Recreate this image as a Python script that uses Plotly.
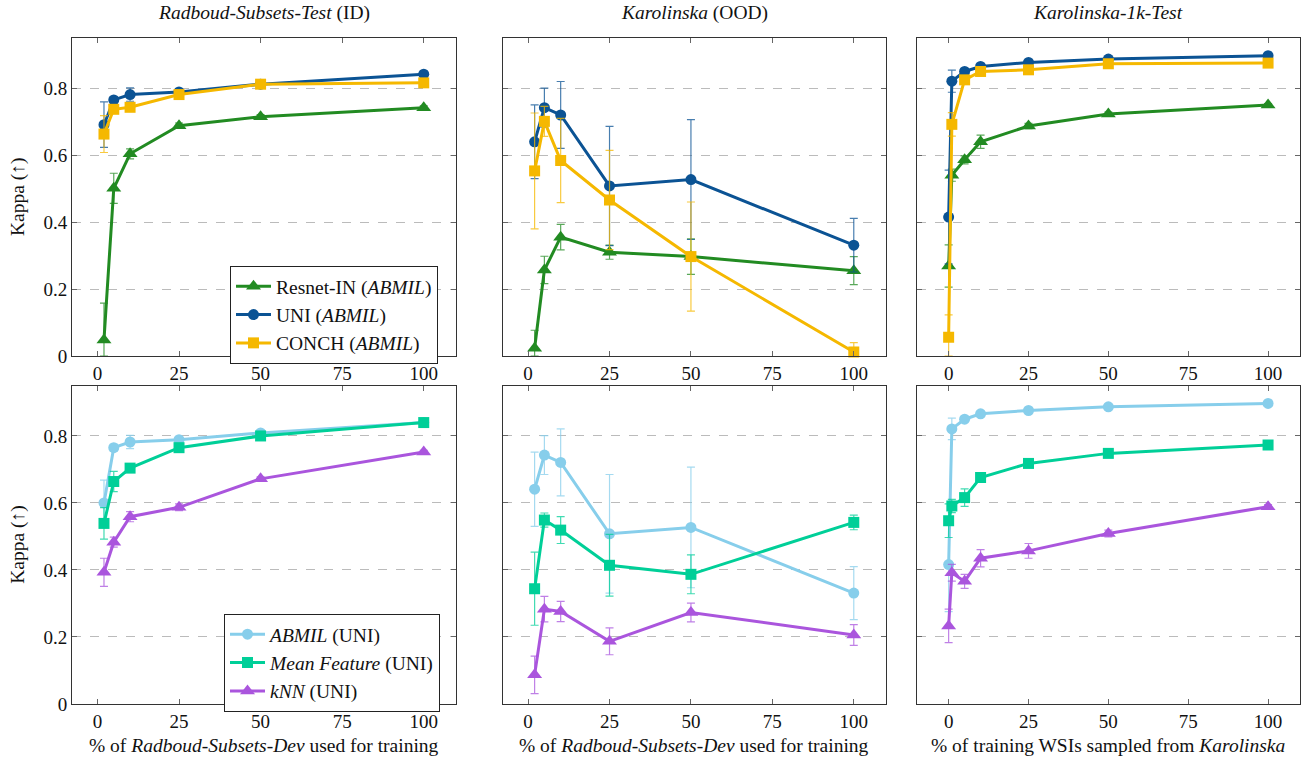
import plotly.graph_objects as go

# ---------------- data ----------------
x_radboud = [2, 5, 10, 25, 50, 100]
x_karo = [0, 1, 5, 10, 25, 50, 100]
x_ticks = [0, 25, 50, 75, 100]
y_ticks = [0, 0.2, 0.4, 0.6, 0.8]
y_tick_labels = ["0", "0.2", "0.4", "0.6", "0.8"]

# Top row: encoders with ABMIL
resnet_id = [0.048, 0.501, 0.604, 0.688, 0.715, 0.742]
resnet_id_err = [0.11, 0.045, 0.015, 0.008, 0.006, 0.005]
uni_id = [0.691, 0.765, 0.781, 0.789, 0.812, 0.842]
uni_id_err = [0.068, 0.01, 0.02, 0.008, 0.005, 0.005]
conch_id = [0.663, 0.737, 0.743, 0.781, 0.812, 0.816]
conch_id_err = [0.055, 0.012, 0.01, 0.008, 0.005, 0.005]

resnet_ood = [0.023, 0.257, 0.355, 0.31, 0.297, 0.255]
resnet_ood_err = [0.054, 0.041, 0.038, 0.021, 0.053, 0.042]
uni_ood = [0.640, 0.742, 0.720, 0.508, 0.527, 0.331]
uni_ood_err = [0.11, 0.058, 0.10, 0.178, 0.179, 0.08]
conch_ood = [0.553, 0.701, 0.584, 0.466, 0.297, 0.012]
conch_ood_err = [0.173, 0.045, 0.126, 0.148, 0.163, 0.028]

resnet_k1k = [0.269, 0.54, 0.586, 0.64, 0.687, 0.723, 0.75]
resnet_k1k_err = [0.063, 0.018, 0.012, 0.02, 0.008, 0.006, 0.004]
uni_k1k = [0.415, 0.821, 0.85, 0.865, 0.877, 0.887, 0.897]
uni_k1k_err = [0.14, 0.033, 0.008, 0.006, 0.005, 0.004, 0.004]
conch_k1k = [0.056, 0.692, 0.825, 0.85, 0.855, 0.873, 0.875]
conch_k1k_err = [0.067, 0.035, 0.01, 0.006, 0.005, 0.004, 0.004]

# Bottom row: aggregators with UNI
abmil_id = [0.60, 0.765, 0.782, 0.789, 0.809, 0.84]
abmil_id_err = [0.068, 0.01, 0.02, 0.008, 0.005, 0.005]
mean_id = [0.539, 0.664, 0.704, 0.765, 0.80, 0.84]
mean_id_err = [0.047, 0.03, 0.01, 0.008, 0.006, 0.004]
knn_id = [0.393, 0.483, 0.559, 0.587, 0.672, 0.752]
knn_id_err = [0.042, 0.015, 0.015, 0.01, 0.006, 0.005]

abmil_ood = [0.641, 0.743, 0.721, 0.508, 0.527, 0.331]
abmil_ood_err = [0.111, 0.058, 0.10, 0.177, 0.18, 0.079]
mean_ood = [0.344, 0.549, 0.519, 0.414, 0.387, 0.542]
mean_ood_err = [0.109, 0.021, 0.04, 0.092, 0.058, 0.022]
knn_ood = [0.087, 0.283, 0.276, 0.187, 0.273, 0.206]
knn_ood_err = [0.056, 0.038, 0.03, 0.04, 0.028, 0.031]

abmil_k1k = [0.416, 0.821, 0.85, 0.866, 0.876, 0.887, 0.897]
abmil_k1k_err = [0.14, 0.032, 0.006, 0.005, 0.004, 0.004, 0.003]
mean_k1k = [0.547, 0.591, 0.616, 0.676, 0.718, 0.748, 0.773]
mean_k1k_err = [0.05, 0.02, 0.026, 0.012, 0.008, 0.006, 0.005]
knn_k1k = [0.233, 0.392, 0.366, 0.435, 0.457, 0.509, 0.589]
knn_k1k_err = [0.05, 0.025, 0.021, 0.026, 0.022, 0.01, 0.006]

col_titles = ["<i>Radboud-Subsets-Test</i> (ID)", "<i>Karolinska</i> (OOD)", "<i>Karolinska-1k-Test</i>"]
x_titles = ["% of <i>Radboud-Subsets-Dev</i> used for training",
            "% of <i>Radboud-Subsets-Dev</i> used for training",
            "% of training WSIs sampled from <i>Karolinska</i>"]
y_title = "Kappa (↑)"

# ---------------- style ----------------
FONT = "Liberation Serif, Times New Roman, DejaVu Serif, serif"
TXT = 19.5
TICK = 19
W, H = 1302, 759
GREEN, BLUE, GOLD = "#228B22", "#0B5394", "#F5B800"
SKY, TEAL, PURPLE = "#87CEEB", "#00CF98", "#AA55DD"

def rgba(hexc, a):
    h = hexc.lstrip("#")
    r, g, b = int(h[0:2], 16), int(h[2:4], 16), int(h[4:6], 16)
    return f"rgba({r},{g},{b},{a})"

panel_x = [(72, 455.7), (502.7, 885.7), (916.7, 1300)]
panel_y = [(38, 356), (385.7, 704)]
x_ranges = [[-7.8, 109.8], [-7.8, 109.8], [-10, 110]]

series_top = [
    ("Resnet-IN (<i>ABMIL</i>)", GREEN, "triangle-up", 13,
     [(resnet_id, resnet_id_err), (resnet_ood, resnet_ood_err), (resnet_k1k, resnet_k1k_err)]),
    ("UNI (<i>ABMIL</i>)", BLUE, "circle", 11,
     [(uni_id, uni_id_err), (uni_ood, uni_ood_err), (uni_k1k, uni_k1k_err)]),
    ("CONCH (<i>ABMIL</i>)", GOLD, "square", 11,
     [(conch_id, conch_id_err), (conch_ood, conch_ood_err), (conch_k1k, conch_k1k_err)]),
]
series_bot = [
    ("<i>ABMIL</i> (UNI)", SKY, "circle", 11,
     [(abmil_id, abmil_id_err), (abmil_ood, abmil_ood_err), (abmil_k1k, abmil_k1k_err)]),
    ("<i>Mean Feature</i> (UNI)", TEAL, "square", 11,
     [(mean_id, mean_id_err), (mean_ood, mean_ood_err), (mean_k1k, mean_k1k_err)]),
    ("<i>kNN</i> (UNI)", PURPLE, "triangle-up", 13,
     [(knn_id, knn_id_err), (knn_ood, knn_ood_err), (knn_k1k, knn_k1k_err)]),
]
x_data = [x_radboud, x_radboud, x_karo]

fig = go.Figure()
layout = {}
for r in range(2):
    for c in range(3):
        i = r * 3 + c + 1
        sfx = "" if i == 1 else str(i)
        x0, x1 = panel_x[c]
        y0, y1 = panel_y[r]
        layout["xaxis" + sfx] = dict(
            domain=[x0 / W, x1 / W], anchor="y" + sfx, range=x_ranges[c],
            tickvals=x_ticks, ticks="inside", ticklen=5, tickcolor="#666",
            showline=True, mirror="ticks", linecolor="#333", linewidth=1,
            showgrid=False, zeroline=False, automargin=False,
            tickfont=dict(family=FONT, size=TICK, color="#111"),
        )
        layout["yaxis" + sfx] = dict(
            domain=[1 - y1 / H, 1 - y0 / H], anchor="x" + sfx, range=[0, 0.95],
            tickvals=y_ticks, ticktext=y_tick_labels, showticklabels=(c == 0),
            ticks="inside", ticklen=5, tickcolor="#666",
            showline=True, mirror="ticks", linecolor="#333", linewidth=1,
            showgrid=True, gridcolor="#BBBBBB", griddash="dash", gridwidth=1,
            zeroline=False, automargin=False,
            tickfont=dict(family=FONT, size=TICK, color="#111"),
        )

def add_series(series, row, legend_name):
    for name, color, sym, msize, panels in series:
        for c in range(3):
            i = row * 3 + c + 1
            sfx = "" if i == 1 else str(i)
            ys, errs = panels[c]
            errs_minus = [min(e, y) for e, y in zip(errs, ys)]
            fig.add_trace(go.Scatter(
                x=x_data[c], y=ys, mode="lines+markers", name=name,
                xaxis="x" + sfx, yaxis="y" + sfx,
                line=dict(color=color, width=3),
                marker=dict(symbol=sym, size=msize, color=color),
                error_y=dict(type="data", array=errs, arrayminus=errs_minus,
                             symmetric=False, color=rgba(color, 0.75),
                             thickness=1.2, width=4),
                showlegend=(c == 0), legend=legend_name, cliponaxis=False,
            ))

add_series(series_top, 0, "legend")
add_series(series_bot, 1, "legend2")

annotations = []
for c in range(3):
    xc = (panel_x[c][0] + panel_x[c][1]) / 2 / W
    annotations.append(dict(text=col_titles[c], x=xc, y=1 - 13 / H, xref="paper", yref="paper",
                            showarrow=False, font=dict(family=FONT, size=TXT, color="#111"),
                            xanchor="center", yanchor="middle"))
    annotations.append(dict(text=x_titles[c], x=xc, y=1 - 745 / H, xref="paper", yref="paper",
                            showarrow=False, font=dict(family=FONT, size=TXT, color="#111"),
                            xanchor="center", yanchor="middle"))
for r in range(2):
    yc = 1 - (panel_y[r][0] + panel_y[r][1]) / 2 / H
    annotations.append(dict(text=y_title, x=18 / W, y=yc, xref="paper", yref="paper",
                            showarrow=False, textangle=-90,
                            font=dict(family=FONT, size=TXT, color="#111"),
                            xanchor="center", yanchor="middle"))

legend_style = dict(bgcolor="white", bordercolor="#222", borderwidth=1,
                    font=dict(family=FONT, size=TXT, color="#111"),
                    xanchor="left", yanchor="top", itemwidth=35, tracegroupgap=0)
fig.update_layout(
    autosize=True, margin=dict(l=0, r=0, t=0, b=0, autoexpand=False),
    paper_bgcolor="white", plot_bgcolor="white",
    font=dict(family=FONT, size=TXT, color="#111"),
    annotations=annotations,
    legend=dict(x=230 / W, y=1 - 266 / H, **legend_style),
    legend2=dict(x=224 / W, y=1 - 614 / H, **legend_style),
    **layout,
)

pre = ("document.body.style.margin='0px';document.body.style.overflow='hidden';"
       "var gd=document.getElementById('{plot_id}');"
       "gd.style.position='fixed';gd.style.left='0px';gd.style.top='0px';"
       "gd.style.width='100vw';gd.style.height='100vh';"
       "Plotly.Plots.resize(gd);")
fig.write_html("out.html", config={"responsive": True, "displayModeBar": False},
               default_width="100vw", default_height="100vh",
               post_script=pre)
